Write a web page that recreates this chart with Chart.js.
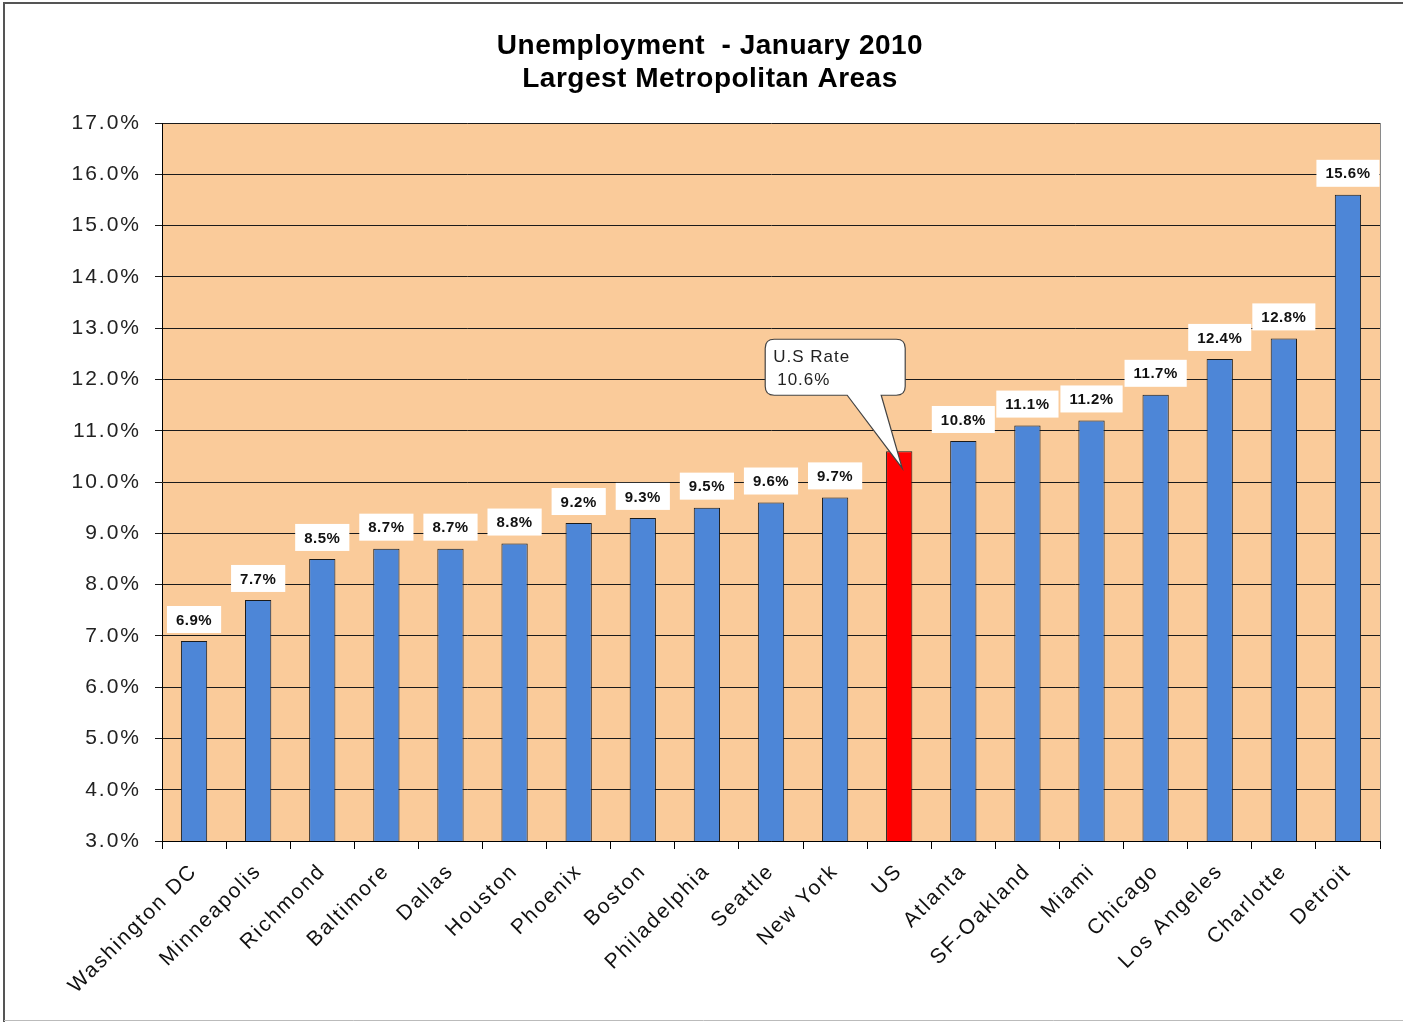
<!DOCTYPE html>
<html>
<head>
<meta charset="utf-8">
<title>Unemployment - January 2010</title>
<script src="https://cdn.jsdelivr.net/npm/chart.js@4.4.1/dist/chart.umd.min.js"></script>
<style>
  html, body { margin: 0; padding: 0; background: #fff; }
  #wrap { width: 1403px; height: 1023px; }
</style>
</head>
<body>
<div id="wrap"><canvas id="grafica" width="1403" height="1023"></canvas></div>
<script>
'use strict';

/* ── DATOS ── */
const CITIES = ['Washington DC', 'Minneapolis', 'Richmond', 'Baltimore', 'Dallas', 'Houston',
  'Phoenix', 'Boston', 'Philadelphia', 'Seattle', 'New York', 'US', 'Atlanta', 'SF-Oakland',
  'Miami', 'Chicago', 'Los Angeles', 'Charlotte', 'Detroit'];
const RATES = [6.9, 7.7, 8.5, 8.7, 8.7, 8.8, 9.2, 9.3, 9.5, 9.6, 9.7, 10.6, 10.8, 11.1, 11.2,
  11.7, 12.4, 12.8, 15.6];
const TITLE_LINES = ['Unemployment  - January 2010', 'Largest Metropolitan Areas'];
const Y_MIN = 3, Y_MAX = 17, Y_STEP = 1;
const US_NAME = 'US';
const CALLOUT_TITLE = 'U.S Rate';

const BLUE = '#4D86D7';
const RED  = '#FF0000';
const PLOT_BG = '#FACB9A';
const FONT = "Arial, 'Liberation Sans', sans-serif";

const usIdx = CITIES.indexOf(US_NAME);
const pct = v => v.toFixed(1) + '%';

/* ── PLUGINS ── */
/* espaciado de letras tipo Excel para los ejes */
const espaciado = {
  id: 'espaciado',
  beforeUpdate(chart) { chart.ctx.letterSpacing = '2px'; },
  beforeDraw(chart) { chart.ctx.letterSpacing = '2px'; }
};

const fondo = {
  id: 'fondo',
  beforeDraw(chart) {
    const { ctx, chartArea: a } = chart;
    ctx.save();
    ctx.fillStyle = PLOT_BG;
    ctx.fillRect(a.left, a.top, a.right - a.left, a.bottom - a.top);
    ctx.restore();
  },
  afterDraw(chart) {
    const { ctx, chartArea: a } = chart;
    ctx.save();
    /* título */
    ctx.letterSpacing = '0.5px';
    ctx.fillStyle = '#000';
    ctx.font = 'bold 28px ' + FONT;
    ctx.textAlign = 'center';
    ctx.textBaseline = 'middle';
    TITLE_LINES.forEach((t, i) => ctx.fillText(t, 710, 46 + i * 33));
    /* borde derecho del área */
    ctx.strokeStyle = '#8a8a8a';
    ctx.lineWidth = 1;
    ctx.beginPath();
    ctx.moveTo(a.right + 0.5, a.top);
    ctx.lineTo(a.right + 0.5, a.bottom);
    ctx.stroke();
    /* marco exterior */
    ctx.strokeStyle = '#555';
    ctx.lineWidth = 2;
    ctx.beginPath();
    ctx.moveTo(4, 1022);
    ctx.lineTo(4, 3);
    ctx.lineTo(1403, 3);
    ctx.stroke();
    ctx.strokeStyle = '#bbb';
    ctx.lineWidth = 1;
    ctx.beginPath();
    ctx.moveTo(4, 1020.5);
    ctx.lineTo(1403, 1020.5);
    ctx.stroke();
    ctx.restore();
  }
};

const etiquetas = {
  id: 'etiquetas',
  afterDatasetsDraw(chart) {
    const { ctx } = chart;
    const meta = chart.getDatasetMeta(0);
    ctx.save();
    ctx.letterSpacing = '0.5px';
    ctx.font = 'bold 15px ' + FONT;
    ctx.textAlign = 'center';
    ctx.textBaseline = 'middle';
    meta.data.forEach((bar, i) => {
      if (i === usIdx) return;
      const txt = pct(RATES[i]);
      const w = ctx.measureText(txt).width + 18;
      const h = 27;
      const bottom = bar.y - 8;
      ctx.fillStyle = '#fff';
      ctx.fillRect(bar.x - w / 2, bottom - h, w, h);
      ctx.fillStyle = '#111';
      ctx.fillText(txt, bar.x, bottom - h / 2 + 1);
    });

    /* globo del promedio nacional */
    const us = meta.data[usIdx];
    const cx = us.x, by = us.y;
    const L = cx - 134, R = cx + 6, T = by - 112, B = by - 56, r = 9;
    ctx.beginPath();
    ctx.moveTo(L + r, T);
    ctx.lineTo(R - r, T);
    ctx.quadraticCurveTo(R, T, R, T + r);
    ctx.lineTo(R, B - r);
    ctx.quadraticCurveTo(R, B, R - r, B);
    ctx.lineTo(cx - 18, B);
    ctx.lineTo(cx + 3, by + 17);
    ctx.lineTo(cx - 52, B);
    ctx.lineTo(L + r, B);
    ctx.quadraticCurveTo(L, B, L, B - r);
    ctx.lineTo(L, T + r);
    ctx.quadraticCurveTo(L, T, L + r, T);
    ctx.closePath();
    ctx.fillStyle = '#fff';
    ctx.fill();
    ctx.strokeStyle = '#444';
    ctx.lineWidth = 1.2;
    ctx.stroke();
    ctx.fillStyle = '#222';
    ctx.letterSpacing = '1px';
    ctx.font = '17px ' + FONT;
    ctx.textAlign = 'left';
    ctx.fillText(CALLOUT_TITLE, L + 8, T + 18);
    ctx.fillText(pct(RATES[usIdx]), L + 12, T + 41);
    ctx.restore();
  }
};

/* ── GRÁFICA ── */
const ctx = document.getElementById('grafica').getContext('2d');
new Chart(ctx, {
  type: 'bar',
  data: {
    labels: CITIES,
    datasets: [{
      data: RATES,
      backgroundColor: CITIES.map((c, i) => i === usIdx ? RED : BLUE),
      borderColor: '#1a1a1a',
      borderWidth: 1,
      borderSkipped: 'bottom',
      barPercentage: 0.41,
      categoryPercentage: 1.0
    }]
  },
  options: {
    responsive: false,
    devicePixelRatio: 1,
    animation: false,
    layout: { padding: { left: 40, right: 23, top: 123, bottom: 0 } },
    plugins: {
      legend: { display: false },
      tooltip: { enabled: false },
      title: { display: false }
    },
    scales: {
      x: {
        offset: true,
        afterFit(s) { s.height = 182; },
        grid: {
          display: true,
          offset: true,
          drawOnChartArea: false,
          drawTicks: true,
          tickLength: 8,
          color: '#000'
        },
        border: { display: true, color: '#000', width: 1 },
        ticks: {
          color: '#111',
          font: { family: FONT, size: 21 },
          minRotation: 45,
          maxRotation: 45,
          autoSkip: false,
          padding: 10
        }
      },
      y: {
        min: Y_MIN,
        max: Y_MAX,
        afterFit(s) { s.width = 122; },
        grid: { color: '#1a1a1a', lineWidth: 1, tickLength: 7 },
        border: { display: true, color: '#000', width: 1 },
        ticks: {
          stepSize: Y_STEP,
          color: '#222',
          font: { family: FONT, size: 21 },
          padding: 14,
          callback: v => pct(v)
        }
      }
    }
  },
  plugins: [espaciado, fondo, etiquetas]
});
</script>
</body>
</html>
